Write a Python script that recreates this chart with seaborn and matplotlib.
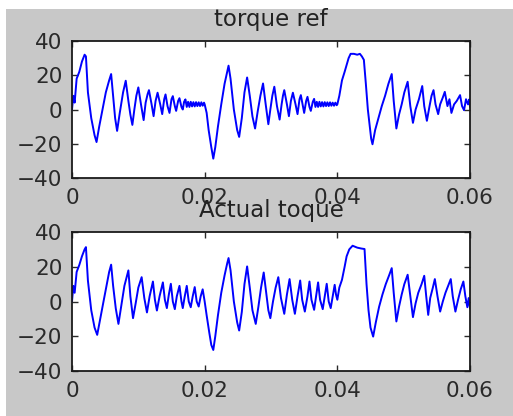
import matplotlib
matplotlib.use("Agg")
import matplotlib.pyplot as plt
from matplotlib.patches import Rectangle
import seaborn as sns
import pandas as pd

# ---- data (time in s, torque) ----
ref_t = [0.0000, 0.0002, 0.0004, 0.0007, 0.0011, 0.0015, 0.0019, 0.0021, 0.0024, 0.0029, 0.0034, 0.0037,
         0.0041, 0.0046, 0.0051, 0.0056, 0.0059, 0.0062, 0.0065, 0.0068,
         0.0072, 0.0077, 0.0081, 0.0085, 0.0088, 0.0091,
         0.0094, 0.0097, 0.0100, 0.0104, 0.0108,
         0.0111, 0.0114, 0.0116, 0.0120, 0.0123,
         0.0126, 0.0129, 0.0133, 0.0136,
         0.0139, 0.0141, 0.0144, 0.0147,
         0.0150, 0.0152, 0.0155, 0.0157,
         0.0160, 0.0162, 0.0165, 0.0167,
         0.0169, 0.0171, 0.0173, 0.0175,
         0.0177, 0.0179, 0.0181, 0.0183, 0.0185, 0.0187, 0.0189, 0.0191, 0.0193, 0.0195, 0.0197, 0.0199, 0.0200,
         0.0203, 0.0206, 0.0210, 0.0213, 0.0216, 0.0220, 0.0225, 0.0230, 0.0234, 0.0236, 0.0239, 0.0244, 0.0249, 0.0252,
         0.0256, 0.0260, 0.0264, 0.0268, 0.0272, 0.0276,
         0.0280, 0.0284, 0.0288, 0.0292, 0.0296,
         0.0299, 0.0302, 0.0305, 0.0309, 0.0313,
         0.0316, 0.0318, 0.0320, 0.0324, 0.0327,
         0.0330, 0.0333, 0.0337, 0.0340,
         0.0343, 0.0345, 0.0348, 0.0350,
         0.0353, 0.0355, 0.0358, 0.0360,
         0.0363, 0.0365, 0.0367, 0.0369,
         0.0371, 0.0373, 0.0375, 0.0377, 0.0379, 0.0381, 0.0383, 0.0385, 0.0387, 0.0389, 0.0391, 0.0393,
         0.0395, 0.0397, 0.0399, 0.0400,
         0.0403, 0.0407, 0.0411, 0.0414, 0.0417, 0.0420, 0.0425, 0.0430, 0.0434, 0.0437, 0.0440,
         0.0443, 0.0446, 0.0449, 0.0451, 0.0453,
         0.0457, 0.0462, 0.0467, 0.0472, 0.0477, 0.0482,
         0.0485, 0.0489,
         0.0493, 0.0497, 0.0501, 0.0506,
         0.0510, 0.0514,
         0.0518, 0.0523, 0.0528,
         0.0531, 0.0535,
         0.0539, 0.0542, 0.0545,
         0.0548, 0.0552,
         0.0555, 0.0559, 0.0562,
         0.0566, 0.0569, 0.0572,
         0.0576, 0.0580, 0.0585,
         0.0588, 0.0591,
         0.0594, 0.0597, 0.0599, 0.0600]
ref_y = [0, 8, 4, 18, 22, 28, 32, 31, 10, -5, -15, -19,
         -10, 0, 10, 17, 20.7, 8, -5, -12.5,
         -2, 10, 16.8, 5, -3, -9,
         0, 8, 12.9, 3, -6.2,
         4, 9, 11.3, 3, -3.9,
         5, 9.8, 3, -2.7,
         6, 8.8, 2, -2,
         6, 7.8, 2, -0.8,
         5, 6.6, 1.5, 0,
         4.5, 5.9, 1.5, 4.5,
         1.5, 4.5, 1.8, 4.3, 1.8, 4.3, 2.0, 4.2, 2.0, 4.2, 2.2, 4.0, 3.0,
         -2, -12, -22, -28.7, -22, -10, 3, 15, 22, 25.6, 18, 0, -12, -16,
         -5, 10, 18.7, 8, -4, -11.1,
         -1, 8, 15.2, 3, -8.6,
         0, 8, 13.3, 2, -5.9,
         3, 8, 11.3, 3, -3.9,
         5, 9.8, 3, -2.7,
         6, 8.4, 2, -2,
         5, 7.4, 1.5, -0.8,
         4.5, 6.2, 1.5, 4.5,
         1.5, 4.5, 1.8, 4.3, 1.8, 4.3, 2.0, 4.2, 2.0, 4.2, 2.2, 4.0,
         2.2, 4.0, 2.5, 3.0,
         8, 17, 22, 26, 30, 32.5, 32.5, 32, 32.5, 31, 29,
         15, 0, -10, -17, -20.3,
         -12, -5, 2, 8, 15, 20.7,
         5, -11.1,
         -3, 3, 10, 16.2,
         2, -7.8,
         0, 6, 13.7,
         2, -6.6,
         2, 8, 11.3,
         3, -2.7,
         3, 7, 10.3,
         2, 6, -2,
         3, 5, 8.4,
         2, -0.4,
         6, 3, 5.9, 1.6]

act_t = [0.0000, 0.0002, 0.0004, 0.0007, 0.0011, 0.0015, 0.0019, 0.0021, 0.0024, 0.0029, 0.0034, 0.0038,
         0.0042, 0.0047, 0.0052, 0.0056, 0.0059, 0.0062, 0.0066, 0.0070,
         0.0074, 0.0079, 0.0085, 0.0088, 0.0092,
         0.0096, 0.0100, 0.0105, 0.0109, 0.0113,
         0.0117, 0.0122, 0.0125, 0.0128,
         0.0132, 0.0137, 0.0140, 0.0143,
         0.0146, 0.0149, 0.0152, 0.0155,
         0.0158, 0.0162, 0.0165, 0.0167,
         0.0170, 0.0173, 0.0176, 0.0179,
         0.0182, 0.0185, 0.0188, 0.0191,
         0.0194, 0.0197, 0.0200,
         0.0203, 0.0207, 0.0210, 0.0213, 0.0216, 0.0220, 0.0225, 0.0230, 0.0234, 0.0236,
         0.0239, 0.0244, 0.0249, 0.0252,
         0.0256, 0.0260, 0.0264, 0.0268, 0.0272, 0.0277,
         0.0281, 0.0285, 0.0289, 0.0293, 0.0296, 0.0299,
         0.0303, 0.0307, 0.0311, 0.0315, 0.0320,
         0.0324, 0.0328, 0.0332, 0.0336,
         0.0340, 0.0344, 0.0347, 0.0351,
         0.0355, 0.0358, 0.0361, 0.0365,
         0.0368, 0.0371, 0.0374, 0.0378,
         0.0381, 0.0384, 0.0387, 0.0390,
         0.0393, 0.0396, 0.0398, 0.0400,
         0.0403, 0.0407, 0.0411, 0.0414, 0.0418, 0.0423, 0.0430, 0.0436, 0.0441,
         0.0444, 0.0447, 0.0450, 0.0454,
         0.0458, 0.0463, 0.0468, 0.0473, 0.0478, 0.0482,
         0.0485, 0.0489,
         0.0493, 0.0497, 0.0501, 0.0506,
         0.0510, 0.0514,
         0.0518, 0.0522, 0.0527, 0.0531,
         0.0534, 0.0537,
         0.0540, 0.0544, 0.0547,
         0.0551, 0.0555,
         0.0559, 0.0563, 0.0567, 0.0571,
         0.0574, 0.0578,
         0.0582, 0.0586, 0.0590,
         0.0593, 0.0596, 0.0598, 0.0600]
act_y = [0, 9, 5, 17, 21, 26, 30, 31.3, 12, -5, -15, -19.2,
         -11, -1, 9, 17, 21.2, 9, -4, -12.9,
         -3, 9, 17.9, 3, -9.6,
         -1, 8, 14, 2, -6.3,
         3, 11.5, 1, -5.2,
         3, 11, 1, -3.8,
         4, 10.2, 0, -4.4,
         3, 9, 0, -3.8,
         3, 9, 0, -3.3,
         3, 8.3, 0, -2.9,
         3, 7, 0,
         -8, -18, -25, -27.9, -20, -8, 5, 15, 22, 25,
         18, 0, -12, -16.7,
         -6, 10, 20.2, 8, -5, -12.9,
         -3, 8, 16.7, 4, -5, -9.6,
         0, 8, 14, 2, -7.1,
         4, 12.9, 1, -7.1,
         3, 12.1, 1, -5.8,
         3, 11.5, 1, -4.8,
         3, 11, 1, -4.4,
         3, 10.2, 0, -3.8,
         3, 9.6, 4, 1,
         8, 12.5, 20, 26, 30, 32.1, 31, 30.5, 30.2,
         10, -5, -15, -20.2,
         -12, -3, 4, 10, 15, 19.2,
         5, -11.5,
         -3, 4, 10, 15.4,
         3, -9,
         -1, 5, 10, 14.8,
         3, -7.7,
         2, 8, 12.9,
         3, -5.8,
         0, 5, 9, 12.9,
         3, -5.8,
         1, 7, 11.5,
         3, -3.3, 2, -3.8]

titles = ["torque ref", "Actual toque"]
x_ticks = [0, 0.02, 0.04, 0.06]
x_labels = ["0", "0.02", "0.04", "0.06"]
y_ticks = [-40, -20, 0, 20, 40]

plt.rcParams['font.family'] = ['DejaVu Sans']

fig = plt.figure(figsize=(5.13, 4.16), dpi=100, facecolor='white')
fig.patches.append(Rectangle((6 / 513, 0), 1, 1 - 9 / 416, transform=fig.transFigure,
                             facecolor='#c8c8c8', edgecolor='none', zorder=-10))

ax_top = fig.add_axes([72 / 513, 1 - 178 / 416, 398 / 513, 137 / 416])
ax_bot = fig.add_axes([72 / 513, 1 - 371 / 416, 398 / 513, 139 / 416])

series = [(ref_t, ref_y), (act_t, act_y)]
for ax, (t, y), title in zip([ax_top, ax_bot], series, titles):
    df = pd.DataFrame({'t': t, 'torque': y})
    sns.lineplot(data=df, x='t', y='torque', ax=ax, color='#0000ff', linewidth=1.4,
                 estimator=None, sort=False)
    ax.set_facecolor('white')
    ax.set_xlim(0, 0.06)
    ax.set_ylim(-40, 40)
    ax.set_xticks(x_ticks)
    ax.set_xticklabels(x_labels)
    ax.set_yticks(y_ticks)
    ax.set_xlabel('')
    ax.set_ylabel('')
    ax.set_title(title, fontsize=16.5, color='#222222', pad=11)
    ax.tick_params(direction='in', length=4, width=1, top=True, right=True,
                   labelsize=15.5, colors='#2a2a2a')
    ax.tick_params(axis='x', pad=7)
    ax.tick_params(axis='y', pad=7)
    for s in ax.spines.values():
        s.set_linewidth(1.3)
        s.set_color('#1a1a1a')

fig.savefig('out.png', dpi=100, facecolor=fig.get_facecolor())
